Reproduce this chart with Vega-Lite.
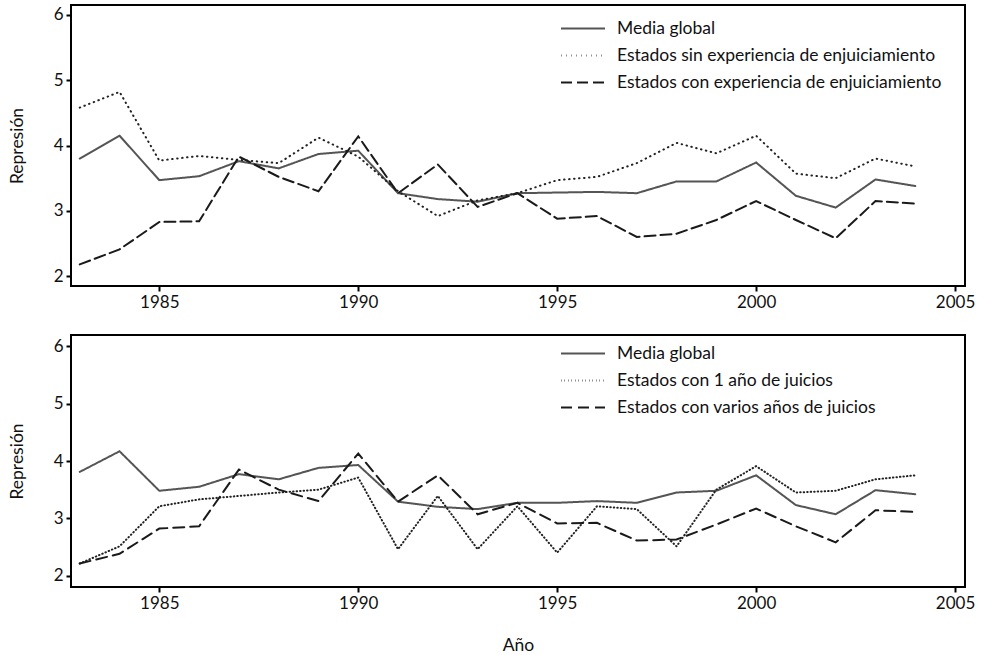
{
  "$schema": "https://vega.github.io/schema/vega-lite/v6.json",
  "background": "white",
  "padding": {"left": 7, "top": 4, "right": 5, "bottom": 2},
  "bounds": "flush",
  "spacing": 49,
  "config": {
    "font": "Lato",
    "view": {"stroke": "black", "strokeWidth": 2},
    "axis": {
      "grid": false,
      "domain": false,
      "tickColor": "black",
      "tickWidth": 2,
      "tickSize": 5,
      "labelFont": "Lato",
      "labelFontSize": 17,
      "labelColor": "#111",
      "labelPadding": 3,
      "titleFont": "Lato",
      "titleFontSize": 17.5,
      "titleFontWeight": "normal",
      "titleColor": "#111"
    },
    "legend": {
      "orient": "none",
      "title": null,
      "symbolType": "stroke",
      "symbolSize": 1936,
      "symbolStrokeWidth": 2,
      "labelFont": "Lato",
      "labelFontSize": 17.5,
      "labelColor": "#111",
      "labelOffset": 11,
      "labelLimit": 500,
      "padding": 0,
      "rowPadding": 0,
      "clipHeight": 27
    }
  },
  "datasets": {
    "top": [
      {"year": 1983, "serie": "Media global", "value": 3.80},
      {"year": 1984, "serie": "Media global", "value": 4.15},
      {"year": 1985, "serie": "Media global", "value": 3.47},
      {"year": 1986, "serie": "Media global", "value": 3.53},
      {"year": 1987, "serie": "Media global", "value": 3.76},
      {"year": 1988, "serie": "Media global", "value": 3.65},
      {"year": 1989, "serie": "Media global", "value": 3.87},
      {"year": 1990, "serie": "Media global", "value": 3.92},
      {"year": 1991, "serie": "Media global", "value": 3.27},
      {"year": 1992, "serie": "Media global", "value": 3.18},
      {"year": 1993, "serie": "Media global", "value": 3.14},
      {"year": 1994, "serie": "Media global", "value": 3.27},
      {"year": 1995, "serie": "Media global", "value": 3.28},
      {"year": 1996, "serie": "Media global", "value": 3.29},
      {"year": 1997, "serie": "Media global", "value": 3.27},
      {"year": 1998, "serie": "Media global", "value": 3.45},
      {"year": 1999, "serie": "Media global", "value": 3.45},
      {"year": 2000, "serie": "Media global", "value": 3.74},
      {"year": 2001, "serie": "Media global", "value": 3.23},
      {"year": 2002, "serie": "Media global", "value": 3.05},
      {"year": 2003, "serie": "Media global", "value": 3.48},
      {"year": 2004, "serie": "Media global", "value": 3.38},
      {"year": 1983, "serie": "Estados sin experiencia de enjuiciamiento", "value": 4.58},
      {"year": 1984, "serie": "Estados sin experiencia de enjuiciamiento", "value": 4.82},
      {"year": 1985, "serie": "Estados sin experiencia de enjuiciamiento", "value": 3.77},
      {"year": 1986, "serie": "Estados sin experiencia de enjuiciamiento", "value": 3.84},
      {"year": 1987, "serie": "Estados sin experiencia de enjuiciamiento", "value": 3.78},
      {"year": 1988, "serie": "Estados sin experiencia de enjuiciamiento", "value": 3.73},
      {"year": 1989, "serie": "Estados sin experiencia de enjuiciamiento", "value": 4.12},
      {"year": 1990, "serie": "Estados sin experiencia de enjuiciamiento", "value": 3.83},
      {"year": 1991, "serie": "Estados sin experiencia de enjuiciamiento", "value": 3.30},
      {"year": 1992, "serie": "Estados sin experiencia de enjuiciamiento", "value": 2.92},
      {"year": 1993, "serie": "Estados sin experiencia de enjuiciamiento", "value": 3.16},
      {"year": 1994, "serie": "Estados sin experiencia de enjuiciamiento", "value": 3.27},
      {"year": 1995, "serie": "Estados sin experiencia de enjuiciamiento", "value": 3.47},
      {"year": 1996, "serie": "Estados sin experiencia de enjuiciamiento", "value": 3.52},
      {"year": 1997, "serie": "Estados sin experiencia de enjuiciamiento", "value": 3.73},
      {"year": 1998, "serie": "Estados sin experiencia de enjuiciamiento", "value": 4.04},
      {"year": 1999, "serie": "Estados sin experiencia de enjuiciamiento", "value": 3.88},
      {"year": 2000, "serie": "Estados sin experiencia de enjuiciamiento", "value": 4.15},
      {"year": 2001, "serie": "Estados sin experiencia de enjuiciamiento", "value": 3.57},
      {"year": 2002, "serie": "Estados sin experiencia de enjuiciamiento", "value": 3.50},
      {"year": 2003, "serie": "Estados sin experiencia de enjuiciamiento", "value": 3.80},
      {"year": 2004, "serie": "Estados sin experiencia de enjuiciamiento", "value": 3.68},
      {"year": 1983, "serie": "Estados con experiencia de enjuiciamiento", "value": 2.18},
      {"year": 1984, "serie": "Estados con experiencia de enjuiciamiento", "value": 2.41},
      {"year": 1985, "serie": "Estados con experiencia de enjuiciamiento", "value": 2.83},
      {"year": 1986, "serie": "Estados con experiencia de enjuiciamiento", "value": 2.84},
      {"year": 1987, "serie": "Estados con experiencia de enjuiciamiento", "value": 3.83},
      {"year": 1988, "serie": "Estados con experiencia de enjuiciamiento", "value": 3.52},
      {"year": 1989, "serie": "Estados con experiencia de enjuiciamiento", "value": 3.30},
      {"year": 1990, "serie": "Estados con experiencia de enjuiciamiento", "value": 4.14},
      {"year": 1991, "serie": "Estados con experiencia de enjuiciamiento", "value": 3.27},
      {"year": 1992, "serie": "Estados con experiencia de enjuiciamiento", "value": 3.71},
      {"year": 1993, "serie": "Estados con experiencia de enjuiciamiento", "value": 3.06},
      {"year": 1994, "serie": "Estados con experiencia de enjuiciamiento", "value": 3.27},
      {"year": 1995, "serie": "Estados con experiencia de enjuiciamiento", "value": 2.88},
      {"year": 1996, "serie": "Estados con experiencia de enjuiciamiento", "value": 2.92},
      {"year": 1997, "serie": "Estados con experiencia de enjuiciamiento", "value": 2.60},
      {"year": 1998, "serie": "Estados con experiencia de enjuiciamiento", "value": 2.65},
      {"year": 1999, "serie": "Estados con experiencia de enjuiciamiento", "value": 2.86},
      {"year": 2000, "serie": "Estados con experiencia de enjuiciamiento", "value": 3.15},
      {"year": 2001, "serie": "Estados con experiencia de enjuiciamiento", "value": 2.86},
      {"year": 2002, "serie": "Estados con experiencia de enjuiciamiento", "value": 2.58},
      {"year": 2003, "serie": "Estados con experiencia de enjuiciamiento", "value": 3.15},
      {"year": 2004, "serie": "Estados con experiencia de enjuiciamiento", "value": 3.11}
    ],
    "bottom": [
      {"year": 1983, "serie": "Media global", "value": 3.81},
      {"year": 1984, "serie": "Media global", "value": 4.17},
      {"year": 1985, "serie": "Media global", "value": 3.48},
      {"year": 1986, "serie": "Media global", "value": 3.55},
      {"year": 1987, "serie": "Media global", "value": 3.77},
      {"year": 1988, "serie": "Media global", "value": 3.68},
      {"year": 1989, "serie": "Media global", "value": 3.88},
      {"year": 1990, "serie": "Media global", "value": 3.93},
      {"year": 1991, "serie": "Media global", "value": 3.29},
      {"year": 1992, "serie": "Media global", "value": 3.20},
      {"year": 1993, "serie": "Media global", "value": 3.16},
      {"year": 1994, "serie": "Media global", "value": 3.27},
      {"year": 1995, "serie": "Media global", "value": 3.27},
      {"year": 1996, "serie": "Media global", "value": 3.30},
      {"year": 1997, "serie": "Media global", "value": 3.27},
      {"year": 1998, "serie": "Media global", "value": 3.45},
      {"year": 1999, "serie": "Media global", "value": 3.48},
      {"year": 2000, "serie": "Media global", "value": 3.75},
      {"year": 2001, "serie": "Media global", "value": 3.23},
      {"year": 2002, "serie": "Media global", "value": 3.07},
      {"year": 2003, "serie": "Media global", "value": 3.49},
      {"year": 2004, "serie": "Media global", "value": 3.42},
      {"year": 1983, "serie": "Estados con 1 año de juicios", "value": 2.21},
      {"year": 1984, "serie": "Estados con 1 año de juicios", "value": 2.51},
      {"year": 1985, "serie": "Estados con 1 año de juicios", "value": 3.21},
      {"year": 1986, "serie": "Estados con 1 año de juicios", "value": 3.33},
      {"year": 1987, "serie": "Estados con 1 año de juicios", "value": 3.39},
      {"year": 1988, "serie": "Estados con 1 año de juicios", "value": 3.45},
      {"year": 1989, "serie": "Estados con 1 año de juicios", "value": 3.50},
      {"year": 1990, "serie": "Estados con 1 año de juicios", "value": 3.71},
      {"year": 1991, "serie": "Estados con 1 año de juicios", "value": 2.46},
      {"year": 1992, "serie": "Estados con 1 año de juicios", "value": 3.39},
      {"year": 1993, "serie": "Estados con 1 año de juicios", "value": 2.46},
      {"year": 1994, "serie": "Estados con 1 año de juicios", "value": 3.21},
      {"year": 1995, "serie": "Estados con 1 año de juicios", "value": 2.40},
      {"year": 1996, "serie": "Estados con 1 año de juicios", "value": 3.21},
      {"year": 1997, "serie": "Estados con 1 año de juicios", "value": 3.16},
      {"year": 1998, "serie": "Estados con 1 año de juicios", "value": 2.51},
      {"year": 1999, "serie": "Estados con 1 año de juicios", "value": 3.50},
      {"year": 2000, "serie": "Estados con 1 año de juicios", "value": 3.91},
      {"year": 2001, "serie": "Estados con 1 año de juicios", "value": 3.45},
      {"year": 2002, "serie": "Estados con 1 año de juicios", "value": 3.48},
      {"year": 2003, "serie": "Estados con 1 año de juicios", "value": 3.68},
      {"year": 2004, "serie": "Estados con 1 año de juicios", "value": 3.75},
      {"year": 1983, "serie": "Estados con varios años de juicios", "value": 2.21},
      {"year": 1984, "serie": "Estados con varios años de juicios", "value": 2.38},
      {"year": 1985, "serie": "Estados con varios años de juicios", "value": 2.82},
      {"year": 1986, "serie": "Estados con varios años de juicios", "value": 2.86},
      {"year": 1987, "serie": "Estados con varios años de juicios", "value": 3.85},
      {"year": 1988, "serie": "Estados con varios años de juicios", "value": 3.50},
      {"year": 1989, "serie": "Estados con varios años de juicios", "value": 3.30},
      {"year": 1990, "serie": "Estados con varios años de juicios", "value": 4.13},
      {"year": 1991, "serie": "Estados con varios años de juicios", "value": 3.29},
      {"year": 1992, "serie": "Estados con varios años de juicios", "value": 3.75},
      {"year": 1993, "serie": "Estados con varios años de juicios", "value": 3.07},
      {"year": 1994, "serie": "Estados con varios años de juicios", "value": 3.27},
      {"year": 1995, "serie": "Estados con varios años de juicios", "value": 2.91},
      {"year": 1996, "serie": "Estados con varios años de juicios", "value": 2.92},
      {"year": 1997, "serie": "Estados con varios años de juicios", "value": 2.61},
      {"year": 1998, "serie": "Estados con varios años de juicios", "value": 2.63},
      {"year": 1999, "serie": "Estados con varios años de juicios", "value": 2.89},
      {"year": 2000, "serie": "Estados con varios años de juicios", "value": 3.17},
      {"year": 2001, "serie": "Estados con varios años de juicios", "value": 2.86},
      {"year": 2002, "serie": "Estados con varios años de juicios", "value": 2.58},
      {"year": 2003, "serie": "Estados con varios años de juicios", "value": 3.14},
      {"year": 2004, "serie": "Estados con varios años de juicios", "value": 3.11}
    ]
  },
  "vconcat": [
    {
      "width": 894,
      "height": 281,
      "data": {"name": "top"},
      "mark": {"type": "line", "strokeCap": "round", "strokeWidth": 2},
      "encoding": {
        "x": {
          "field": "year", "type": "quantitative",
          "scale": {"domain": [1982.78, 2005.25], "nice": false, "zero": false},
          "axis": {"values": [1985, 1990, 1995, 2000, 2005], "format": "d", "title": null}
        },
        "y": {
          "field": "value", "type": "quantitative",
          "scale": {"domain": [1.85, 6.15], "nice": false, "zero": false},
          "axis": {"values": [2, 3, 4, 5, 6], "title": "Represión", "titlePadding": 27}
        },
        "color": {
          "field": "serie", "type": "nominal",
          "scale": {
            "domain": ["Media global", "Estados sin experiencia de enjuiciamiento", "Estados con experiencia de enjuiciamiento"],
            "range": ["#555555", "#222222", "#1a1a1a"]
          },
          "legend": {"legendX": 489, "legendY": 10}
        },
        "strokeDash": {
          "field": "serie", "type": "nominal",
          "scale": {
            "domain": ["Media global", "Estados sin experiencia de enjuiciamiento", "Estados con experiencia de enjuiciamiento"],
            "range": [[1, 0], [0.5, 4.5], [11, 5]]
          },
          "legend": {"legendX": 489, "legendY": 10}
        }
      }
    },
    {
      "width": 894,
      "height": 252,
      "data": {"name": "bottom"},
      "mark": {"type": "line", "strokeCap": "round", "strokeWidth": 2},
      "encoding": {
        "x": {
          "field": "year", "type": "quantitative",
          "scale": {"domain": [1982.78, 2005.25], "nice": false, "zero": false},
          "axis": {"values": [1985, 1990, 1995, 2000, 2005], "format": "d", "title": "Año", "titlePadding": 25}
        },
        "y": {
          "field": "value", "type": "quantitative",
          "scale": {"domain": [1.8, 6.2], "nice": false, "zero": false},
          "axis": {"values": [2, 3, 4, 5, 6], "title": "Represión", "titlePadding": 27}
        },
        "color": {
          "field": "serie", "type": "nominal",
          "scale": {
            "domain": ["Media global", "Estados con 1 año de juicios", "Estados con varios años de juicios"],
            "range": ["#555555", "#222222", "#1a1a1a"]
          },
          "legend": {"legendX": 489, "legendY": 5}
        },
        "strokeDash": {
          "field": "serie", "type": "nominal",
          "scale": {
            "domain": ["Media global", "Estados con 1 año de juicios", "Estados con varios años de juicios"],
            "range": [[1, 0], [0.5, 3], [11, 6]]
          },
          "legend": {"legendX": 489, "legendY": 5}
        }
      }
    }
  ],
  "resolve": {"scale": {"color": "independent", "strokeDash": "independent"}, "legend": {"color": "independent", "strokeDash": "independent"}}
}
